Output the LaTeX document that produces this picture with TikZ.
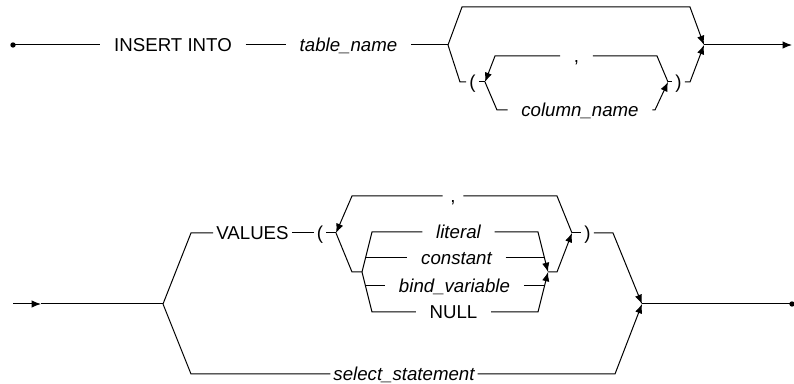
\documentclass[tikz,border=0pt]{standalone}
\usepackage{fontspec}
\setmainfont{Liberation Sans}
\usetikzlibrary{arrows.meta}
\tikzset{every picture/.style={line width=0.75pt}}
\tikzset{
  term/.style={inner xsep=10pt, inner ysep=0pt, text height=12pt, text depth=2pt, font=\fontsize{14}{16}\selectfont},
  ident/.style={term, font=\fontsize{14}{16}\selectfont\itshape},
  tight/.style={inner xsep=2pt},
  paren/.style={term, inner xsep=2pt},
  flow/.style={-{Latex[length=7pt,width=5.5pt]}},
}

\begin{document}
\begin{tikzpicture}[x=0.75pt,y=0.75pt,yscale=-1,xscale=1]
\useasboundingbox (0,0) rectangle (794,384);

% Coordinates, first line
\coordinate (s1) at (13,45);
\coordinate (b1) at (448,45);
\coordinate (j1) at (704,45);
\coordinate (e1) at (792,45);
\coordinate (l1) at (485,82);
\coordinate (l2) at (668,82);
% Coordinates, second line
\coordinate (s2) at (13,304);
\coordinate (m2) at (41,304);
\coordinate (b2) at (163,304);
\coordinate (j2) at (642,304);
\coordinate (e2) at (792,304);
\coordinate (l3) at (336,233);
\coordinate (l4) at (572,233);
\coordinate (b3) at (362,272);
\coordinate (j3) at (548,272);
\coordinate (cl) at (365.5,258);
\coordinate (cr) at (544.5,258);
\coordinate (bl) at (365.5,286);
\coordinate (br) at (544.5,286);

% Text Node
\node [term] (ins) at (173,45) {INSERT INTO};
% Text Node
\node [ident] (tab) at (348.5,45) {table\_name};
% Text Node
\node [paren] (lpar) at (472.5,82) {(};
% Text Node
\node [term] (comma) at (576.5,56) {,};
% Text Node
\node [ident] (col) at (580,110) {column\_name};
% Text Node
\node [paren] (rpar) at (678.5,82) {)};

% Text Node
\node [term,tight] (vals) at (252.5,233) {VALUES};
% Text Node
\node [paren] (lpar2) at (320,233) {(};
% Text Node
\node [term,inner xsep=5.5pt] (comma2) at (453,196) {,};
% Text Node
\node [ident] (lit) at (458.5,232) {literal};
% Text Node
\node [ident] (cst) at (456.5,258) {constant};
% Text Node
\node [ident] (bind) at (454.5,286) {bind\_variable};
% Text Node
\node [term] (null) at (453.5,312) {NULL};
% Text Node
\node [paren] (rpar2) at (587.5,233) {)};
% Text Node
\node [ident,tight] (sel) at (404,374) {select\_statement};

%Straight Lines
\fill (s1) circle (2pt);
\draw (s1) -- (ins);
\draw (ins) -- (tab);
\draw (tab) -- (b1);
\draw [flow] (b1) -- (462,7) -- (690,7) -- (j1);
\draw (b1) -- (460,82) -- (lpar);
\draw (lpar) -- (l1);
\draw (l2) -- (657,56) -- (comma);
\draw [flow] (comma) -- (495,56) -- (l1);
\draw (l1) -- (497,110) -- (col);
\draw [flow] (col) -- (655,110) -- (l2);
\draw (l2) -- (rpar);
\draw [flow] (rpar) -- (690,82) -- (j1);
\draw [flow] (j1) -- (e1);

%Straight Lines
\draw [flow] (s2) -- (m2);
\draw (m2) -- (b2);
\draw (b2) -- (191,233) -- (vals);
\draw (vals) -- (lpar2);
\draw (lpar2) -- (l3);
\draw (l4) -- (557,196) -- (comma2);
\draw [flow] (comma2) -- (352,196) -- (l3);
\draw (l3) -- (352,272) -- (b3);
\draw (b3) -- (372,232) -- (lit);
\draw [flow] (lit) -- (538,232) -- (j3);
\draw (cl) -- (cst);
\draw (cst) -- (cr);
\draw (bl) -- (bind);
\draw (bind) -- (br);
\draw (b3) -- (372,312) -- (null);
\draw [flow] (null) -- (538,312) -- (j3);
\draw [flow] (j3) -- (557,272) -- (l4);
\draw (l4) -- (rpar2);
\draw [flow] (rpar2) -- (613,233) -- (j2);
\draw (b2) -- (191,374) -- (sel);
\draw [flow] (sel) -- (615,374) -- (j2);
\draw (j2) -- (e2);
\fill (e2) circle (2pt);

\end{tikzpicture}
\end{document}
